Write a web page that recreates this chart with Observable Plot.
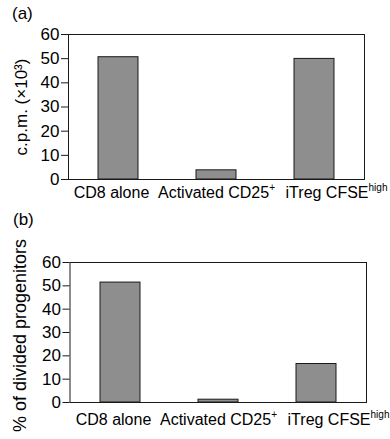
<!DOCTYPE html>
<html><head><meta charset="utf-8">
<script src="https://cdn.jsdelivr.net/npm/d3@7"></script>
<script src="https://cdn.jsdelivr.net/npm/@observablehq/plot@0.6"></script>
<style>
body{margin:0;background:#fff;}
#wrap{position:relative;width:390px;height:439px;font-family:"Liberation Sans",Arial,Helvetica,sans-serif;color:#000;overflow:hidden;}
.panel{position:absolute;left:0;}
.tag{position:absolute;font-size:17px;line-height:17px;}
</style></head><body>
<div id="wrap">
  <div id="pa" class="panel" style="top:0"></div>
  <div id="pb" class="panel" style="top:205px"></div>
  <div class="tag" style="left:12px;top:5px">(a)</div>
  <div class="tag" style="left:13px;top:211px">(b)</div>
</div>
<script>
// ---- data ----
const categories = ["CD8 alone", "Activated CD25", "iTreg CFSE"];
const categorySup = ["", "+", "high"];
const cpm = [50.6, 3.8, 49.9];        // panel (a), c.p.m. ×10^3
const divided = [51.4, 1.2, 16.5];    // panel (b), % of divided progenitors
const yTicks = [0, 10, 20, 30, 40, 50, 60];
const yLabelA = "c.p.m. (×10³)";
const yLabelB = "% of divided progenitors";

// ---- style ----
const FONT = '"Liberation Sans", Arial, Helvetica, sans-serif';
const labelNudge = [-7, 0, 22];   // horizontal nudges of category labels (px)

function panel(values, label, o) {
  const data = categories.map((c, i) => ({c, v: values[i]}));
  const svg = Plot.plot({
    width: 390, height: o.height,
    marginTop: o.mt, marginBottom: o.mb, marginLeft: o.ml, marginRight: o.mr,
    style: {fontFamily: FONT, fontSize: "17px", color: "#000", background: "transparent", overflow: "visible"},
    x: {domain: categories, paddingInner: 0.595, paddingOuter: 0.2975},
    y: {domain: [0, 60]},
    marks: [
      Plot.barY(data, {x: "c", y: "v", fill: "#8e8e8e", stroke: "#1a1a1a", strokeWidth: 1}),
      Plot.frame({stroke: "#1a1a1a", strokeWidth: 1}),
      Plot.axisY({ticks: yTicks, tickSize: 7, tickPadding: 2, label: null, fontSize: 17, stroke: "#1a1a1a"}),
      Plot.axisX({tickSize: 0, tickPadding: o.xpad, label: null, fontSize: 16}),
      Plot.text([label], {text: d => d, frameAnchor: "left", rotate: -90, dx: o.ldx, dy: o.ldy,
                          fontSize: o.lfs, textAnchor: "middle", lineAnchor: "middle", fill: "#000"})
    ]
  });
  svg.querySelectorAll('g[aria-label="x-axis tick label"] text').forEach(t => {
    const i = categories.indexOf(t.textContent);
    if (i < 0) return;
    if (categorySup[i]) {
      const ts = document.createElementNS("http://www.w3.org/2000/svg", "tspan");
      ts.setAttribute("font-size", 10);
      ts.setAttribute("dy", -7);
      ts.textContent = categorySup[i];
      t.appendChild(ts);
    }
    if (labelNudge[i]) {
      t.setAttribute("transform", (t.getAttribute("transform") || "") + ` translate(${labelNudge[i]},0)`);
    }
  });
  return svg;
}

document.getElementById("pa").appendChild(panel(cpm, yLabelA,
  {height: 200, mt: 34, mb: 21, ml: 68, mr: 26, xpad: 7, ldx: -46.5, ldy: 0, lfs: 17}));
document.getElementById("pb").appendChild(panel(divided, yLabelB,
  {height: 234, mt: 57, mb: 37, ml: 69.5, mr: 24, xpad: 11, ldx: -50, ldy: 3, lfs: 18}));
</script>
</body></html>
